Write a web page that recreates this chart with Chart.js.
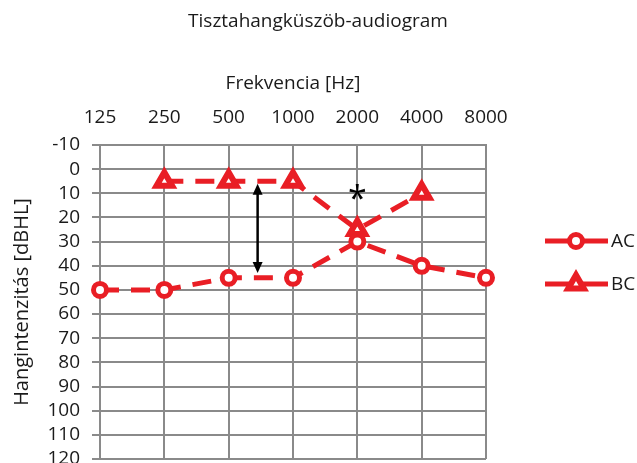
<!DOCTYPE html>
<html>
<head>
<meta charset="utf-8">
<script src="https://cdn.jsdelivr.net/npm/chart.js@4/dist/chart.umd.min.js"></script>
<style>
    html, body { margin: 0; padding: 0; background: #fff; overflow: hidden; }
    #wrap { width: 637px; height: 474px; }
</style>
</head>
<body>
<div id="wrap"><canvas id="audiogram"></canvas></div>
<script>
// Audiogram data
const chartTitle = 'Tisztahangküszöb-audiogram';
const frequencies = ['125', '250', '500', '1000', '2000', '4000', '8000'];
const acValues = [50, 50, 45, 45, 30, 40, 45];
const bcValues = [null, 5, 5, 5, 25, 10, null];
const yTicks = { min: -10, max: 120, step: 10 };

// Annotations (in data units): air-bone gap arrow and asterisk
const gapArrow = { x: 2.45, from: 6, to: 43 };
const asteriskMark = { x: 4, y: 13 };

const RED = '#e91e25';
const TEXT = '#1a1a1a';
const FONT = "'Open Sans', 'Noto Sans', sans-serif";

// Draws the title, arrow, asterisk and the legend on the right
const extrasPlugin = {
    id: 'extras',
    afterDatasetsDraw(chart) {
        const ctx = chart.ctx;
        const xs = chart.scales.x;
        const ys = chart.scales.y;
        ctx.save();

        // main title
        ctx.fillStyle = TEXT;
        ctx.font = '19px ' + FONT;
        ctx.textAlign = 'center';
        ctx.textBaseline = 'middle';
        ctx.fillText(chartTitle, 318, 22);

        // double headed arrow
        const x0 = xs.getPixelForValue(0);
        const ax = x0 + (xs.getPixelForValue(1) - x0) * gapArrow.x;
        const y1 = ys.getPixelForValue(gapArrow.from);
        const y2 = ys.getPixelForValue(gapArrow.to);
        ctx.strokeStyle = '#000';
        ctx.fillStyle = '#000';
        ctx.lineWidth = 2.5;
        ctx.beginPath();
        ctx.moveTo(ax, y1 + 8);
        ctx.lineTo(ax, y2 - 8);
        ctx.stroke();
        ctx.beginPath();
        ctx.moveTo(ax, y1);
        ctx.lineTo(ax - 5, y1 + 11);
        ctx.lineTo(ax + 5, y1 + 11);
        ctx.closePath();
        ctx.fill();
        ctx.beginPath();
        ctx.moveTo(ax, y2);
        ctx.lineTo(ax - 5, y2 - 11);
        ctx.lineTo(ax + 5, y2 - 11);
        ctx.closePath();
        ctx.fill();

        // asterisk
        ctx.font = '34px ' + FONT;
        ctx.fillText('*', xs.getPixelForValue(asteriskMark.x), ys.getPixelForValue(asteriskMark.y));

        // legend
        const rows = [241, 284];
        chart.data.datasets.forEach((ds, i) => {
            const y = rows[i];
            ctx.strokeStyle = RED;
            ctx.lineWidth = 5;
            ctx.setLineDash([]);
            ctx.beginPath();
            ctx.moveTo(545, y);
            ctx.lineTo(608, y);
            ctx.stroke();
            ctx.save();
            ctx.fillStyle = '#fff';
            ctx.strokeStyle = RED;
            ctx.lineWidth = ds.pointBorderWidth;
            Chart.helpers.drawPoint(ctx, {
                pointStyle: ds.pointStyle,
                radius: ds.pointRadius,
                borderWidth: ds.pointBorderWidth
            }, 576, y);
            ctx.restore();
            ctx.fillStyle = TEXT;
            ctx.font = '19px ' + FONT;
            ctx.textAlign = 'left';
            ctx.fillText(ds.label, 611, y + 1);
        });
        ctx.restore();
    }
};

const ctx = document.getElementById('audiogram').getContext('2d');
new Chart(ctx, {
    type: 'line',
    data: {
        labels: frequencies,
        datasets: [{
            label: 'AC',
            data: acValues,
            borderColor: RED,
            borderWidth: 5,
            borderDash: [19, 12],
            pointStyle: 'circle',
            pointRadius: 6.5,
            pointBorderWidth: 5,
            pointBackgroundColor: '#fff',
            pointBorderColor: RED,
            tension: 0
        }, {
            label: 'BC',
            data: bcValues,
            borderColor: RED,
            borderWidth: 5,
            borderDash: [19, 12],
            pointStyle: 'triangle',
            pointRadius: 9,
            pointBorderWidth: 6,
            pointBackgroundColor: '#fff',
            pointBorderColor: RED,
            tension: 0
        }]
    },
    options: {
        responsive: true,
        maintainAspectRatio: false,
        animation: false,
        layout: { padding: { left: 0, right: 151, top: 0, bottom: 0 } },
        plugins: {
            legend: { display: false },
            tooltip: { enabled: false },
            title: { display: false }
        },
        scales: {
            x: {
                type: 'category',
                position: 'top',
                offset: false,
                grid: { color: '#8a8a8a', lineWidth: 2, drawTicks: false },
                border: { color: '#8a8a8a', width: 2 },
                ticks: {
                    color: TEXT,
                    font: { family: FONT, size: 19 },
                    padding: 16,
                    maxRotation: 0,
                    autoSkip: false
                },
                title: {
                    display: true,
                    text: 'Frekvencia [Hz]',
                    color: TEXT,
                    font: { family: FONT, size: 19 },
                    padding: { top: 72, bottom: 0 }
                },
                afterFit(scale) {
                    scale.height = 145;
                    scale.paddingLeft = 0;
                    scale.paddingRight = 0;
                }
            },
            y: {
                reverse: true,
                min: yTicks.min,
                max: yTicks.max,
                grid: { color: '#8a8a8a', lineWidth: 2, drawTicks: true, tickLength: 8 },
                border: { color: '#8a8a8a', width: 2 },
                ticks: {
                    stepSize: yTicks.step,
                    color: TEXT,
                    font: { family: FONT, size: 19 },
                    padding: 12,
                    autoSkip: false
                },
                title: {
                    display: true,
                    text: 'Hangintenzitás [dBHL]',
                    color: TEXT,
                    font: { family: FONT, size: 20 },
                    padding: { top: 10, bottom: 0 }
                },
                afterFit(scale) {
                    scale.width = 100;
                    scale.paddingTop = 0;
                    scale.paddingBottom = 0;
                }
            }
        }
    },
    plugins: [extrasPlugin]
});
</script>
</body>
</html>
